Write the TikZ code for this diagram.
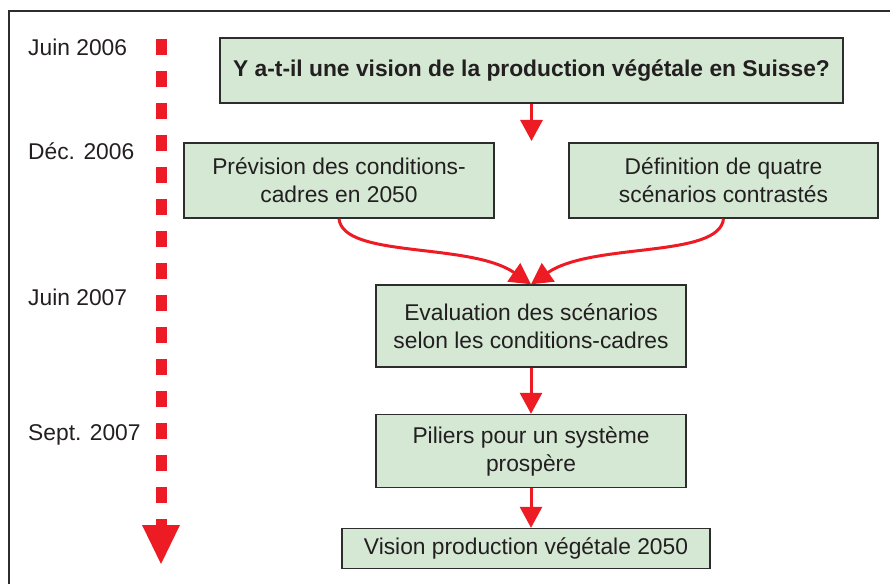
\documentclass[tikz,border=0pt]{standalone}
\usepackage{fontspec}
\setmainfont{Liberation Sans}
\usetikzlibrary{arrows.meta,calc}
\definecolor{boxfill}{RGB}{212,232,212}
\definecolor{boxline}{RGB}{45,45,45}
\definecolor{arrred}{RGB}{237,28,36}
\definecolor{txt}{RGB}{35,31,32}
\begin{document}
\begin{tikzpicture}[x=1bp,y=-1bp,
  every node/.style={font=\fontsize{22.8bp}{28bp}\selectfont, text=txt},
  box/.style={draw=boxline, line width=1.4bp, fill=boxfill, align=center, inner sep=0pt},
  datelabel/.style={anchor=base west, inner sep=0pt},
  conn/.style={draw=arrred, line width=3bp, -{Triangle[length=21bp,width=22bp]}}
]
\useasboundingbox (0,0) rectangle (890,584);
% frame
\draw[boxline, line width=1.6bp] (9,584) -- (9,11) -- (890,11);
% timeline
\coordinate (tl0) at (161,39);
\coordinate (tl1) at (161,526);
\draw[arrred, line width=11bp, dash pattern=on 16bp off 16bp] (tl0) -- (tl1);
\fill[arrred] (142,525) -- (180,525) -- (161,564) -- cycle;
% date labels
\node[datelabel] (d1) at (28,56) {Juin 2006};
\node[datelabel] (d2) at (28,160) {Déc. 2006};
\node[datelabel] (d3) at (28,305) {Juin 2007};
\node[datelabel] (d4) at (28,440) {Sept. 2007};
% boxes
\node[box, minimum width=623bp, minimum height=65bp, font=\fontsize{22.8bp}{28bp}\selectfont\bfseries] (b1) at (531.5,70.5) {Y a-t-il une vision de la production végétale en Suisse?};
\node[box, minimum width=310bp, minimum height=75bp] (b2) at (339,180.5) {Prévision des conditions-\\cadres en 2050};
\node[box, minimum width=309bp, minimum height=75bp] (b3) at (723.5,180.5) {Définition de quatre\\scénarios contrastés};
\node[box, minimum width=310bp, minimum height=82bp] (b4) at (531,326) {Evaluation des scénarios\\selon les conditions-cadres};
\node[box, minimum width=310bp, minimum height=73bp] (b5) at (531,451) {Piliers pour un système\\prospère};
\node[box, minimum width=368bp, minimum height=40bp] (b6) at (526,548.5) {Vision production végétale 2050};
% connectors
\coordinate (a1end) at (531.5,141);
\draw[conn] (b1.south) -- (a1end);
\draw[conn] (b2.south) .. controls ($(b2.south)+(4,40)$) and (470,242) .. (b4.north);
\draw[conn] (b3.south) .. controls ($(b3.south)+(-4,40)$) and (592,242) .. (b4.north);
\draw[conn] (b4.south) -- (b5.north);
\draw[conn] (b5.south) -- (b5.south |- b6.north);
\end{tikzpicture}
\end{document}
